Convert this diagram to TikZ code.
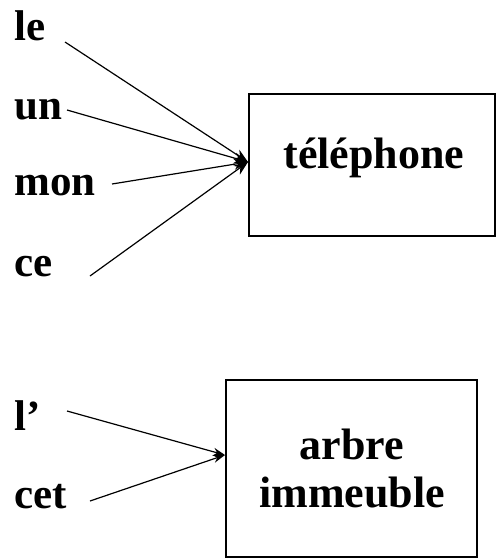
\documentclass[tikz,border=0pt]{standalone}
\usepackage{fontspec}
\setmainfont{Liberation Serif}
\usetikzlibrary{arrows.meta}
\begin{document}
\begin{tikzpicture}[x=1pt,y=-1pt,
  word/.style={anchor=base west,inner sep=0pt,font=\fontsize{43}{50}\selectfont\bfseries},
  boxtext/.style={anchor=base,inner sep=0pt,font=\fontsize{44}{50}\selectfont\bfseries},
  frame/.style={draw,line width=1.3pt},
  link/.style={line width=1.2pt,-{Stealth[length=14pt,width=11pt]}},
  linksmall/.style={line width=1.2pt,-{Stealth[length=12pt,width=8pt]}}]
\useasboundingbox (0,0) rectangle (496,560);
% top group
\draw[frame] (249,94) rectangle (495,236);
\node[boxtext] (tel) at (374,168) {téléphone};
\node[word] (le) at (14,40) {le};
\node[word] (un) at (14,119) {un};
\node[word] (mon) at (14,195) {mon};
\node[word] (ce) at (14,276) {ce};
\coordinate (t) at (248,162);
\coordinate (sle) at (65,42);
\coordinate (sun) at (67,110);
\coordinate (smon) at (112,184);
\coordinate (sce) at (90,276);
\draw[link] (sle) -- (t);
\draw[link] (sun) -- (t);
\draw[link] (smon) -- (t);
\draw[link] (sce) -- (t);
% bottom group
\draw[frame] (226,380) rectangle (477,557);
\node[boxtext] (arbre) at (352,459) {arbre};
\node[boxtext] (imm) at (352,507) {immeuble};
\node[word] (l) at (14,430) {l’};
\node[word] (cet) at (14,508) {cet};
\coordinate (b) at (225,455);
\coordinate (sl) at (67,411);
\coordinate (scet) at (90,501);
\draw[linksmall] (sl) -- (b);
\draw[linksmall] (scet) -- (b);
\end{tikzpicture}
\end{document}
